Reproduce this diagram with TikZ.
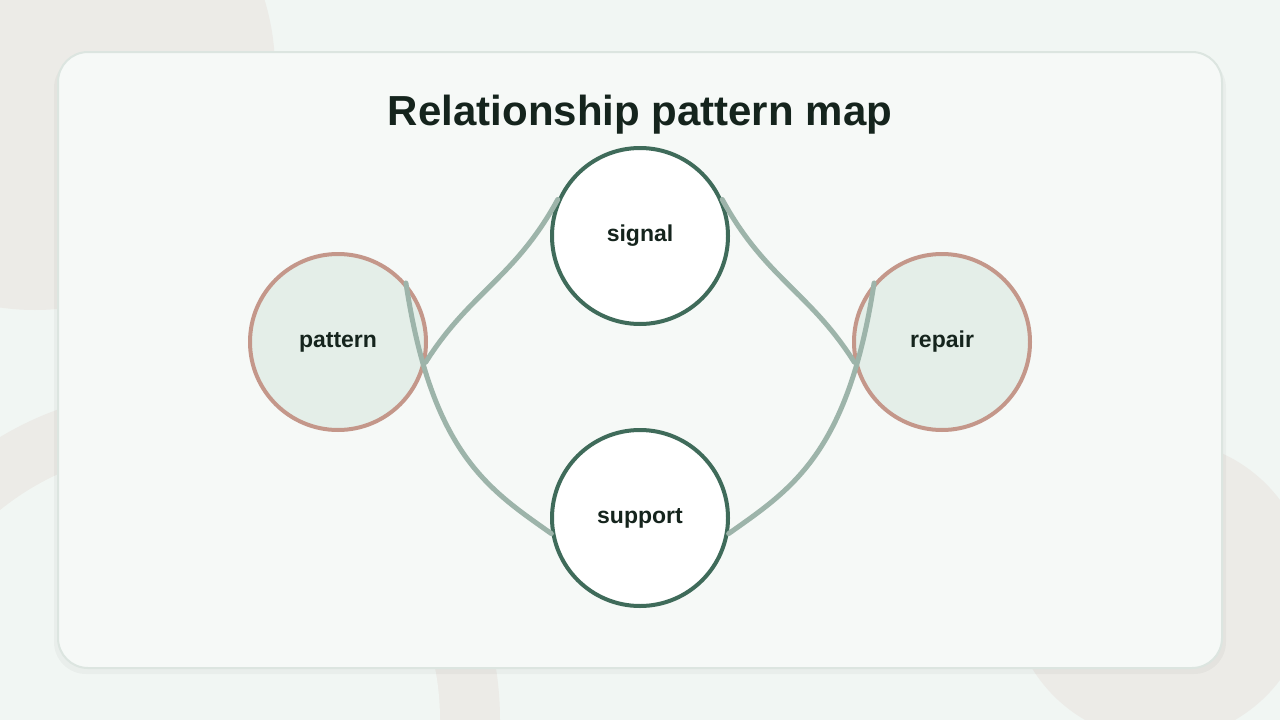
\documentclass[tikz,border=0pt]{standalone}
\usepackage{fontspec}
\setmainfont{Liberation Sans}
\begin{document}
\definecolor{bg}{HTML}{F1F6F3}
\definecolor{blob}{HTML}{ECEBE7}
\definecolor{card}{HTML}{F6F9F7}
\definecolor{cardb}{HTML}{DCE5E0}
\definecolor{dk}{HTML}{3F6B5A}
\definecolor{rose}{HTML}{C4978A}
\definecolor{soft}{HTML}{E4EEE8}
\definecolor{link}{HTML}{9DB4AA}
\definecolor{ink}{HTML}{15241D}
\begin{tikzpicture}[x=1pt,y=-1pt,
  core/.style={circle,minimum size=176pt,inner sep=0pt,line width=4pt,draw=dk,fill=white,text=ink,font=\bfseries\fontsize{23}{27}\selectfont},
  side/.style={core,draw=rose,fill=soft},
  conn/.style={draw=link,line width=5pt,line cap=round}]
\useasboundingbox (0,0) rectangle (1280,720);
\fill[bg] (0,0) rectangle (1280,720);
\begin{scope}
\clip (0,0) rectangle (1280,720);
\fill[blob] (35,70) circle (240);
\fill[blob] (170,720) circle (330);
\fill[bg] (170,720) circle (270);
\fill[blob] (1160,590) circle (150);
\end{scope}
\fill[black,opacity=0.03] (54,56) [rounded corners=32] rectangle (1226,674);
\draw[cardb,fill=card,line width=2pt,rounded corners=30] (58,52) rectangle (1222,668);
\node[text=ink,font=\bfseries\fontsize{42}{48}\selectfont] (title) at (640,115) {Relationship pattern map};
\draw[conn] (338,342) ++(-13:88) coordinate (a1);
\node[core] (signal) at (640,236) {signal};
\node[core] (support) at (640,518) {support};
\node[side] (pattern) at (338,342) {pattern};
\node[side] (repair) at (942,342) {repair};
\draw[conn] (pattern.-13) .. controls (470,292) and (515,278) .. (signal.156);
\draw[conn] (signal.24) .. controls (765,278) and (810,292) .. (repair.193);
\draw[conn] (pattern.41) .. controls (432,455) and (490,490) .. (support.190);
\draw[conn] (repair.139) .. controls (848,455) and (790,490) .. (support.350);
\end{tikzpicture}
\end{document}
